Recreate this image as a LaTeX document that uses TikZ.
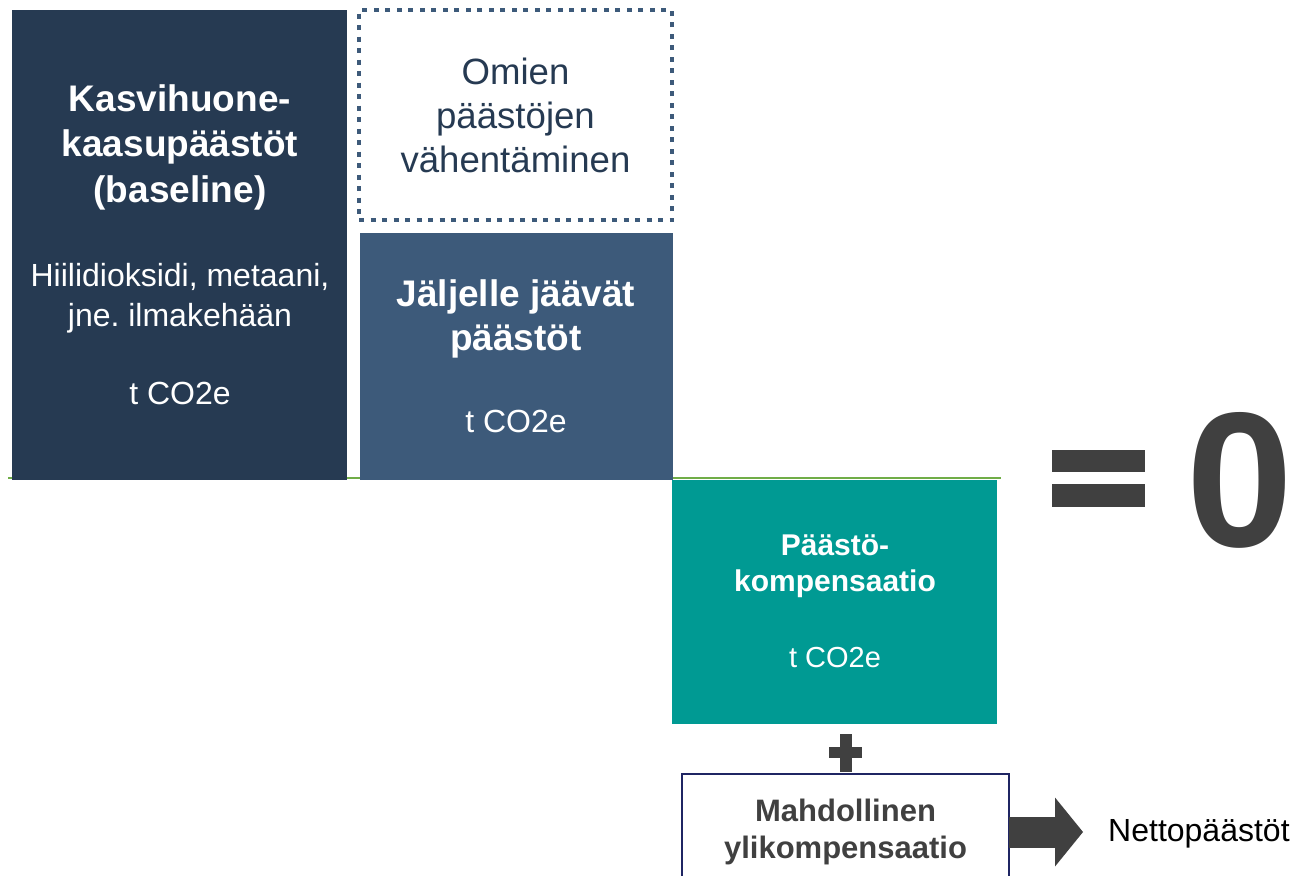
\documentclass[tikz,border=0pt]{standalone}
\usepackage{fontspec}
\setmainfont{Liberation Sans}
\usetikzlibrary{arrows.meta}
\frenchspacing

\definecolor{ghgnavy}{HTML}{263A52}
\definecolor{restblue}{HTML}{3D5A7A}
\definecolor{offsetteal}{HTML}{009A93}
\definecolor{linegreen}{HTML}{70AD47}
\definecolor{signgray}{HTML}{404040}
\definecolor{frameblue}{HTML}{1F2563}

\tikzset{
	block/.style = {rectangle, inner sep = 0pt, outer sep = 0pt},
	whitetext/.style = {text = white, align = center, inner sep = 0pt},
	bigsign/.style = {anchor = base, inner sep = 0pt, text = signgray, font = \bfseries\fontsize{192}{196}\selectfont}
}

\begin{document}
\begin{tikzpicture}[x = 1pt, y = -1pt]
		\useasboundingbox (0,0) rectangle (1294,876);
		\draw [linegreen, line width = 2.5pt] (8,478) -- (1001,478);
		
		\node (ghg) at (179.5,245) [block, fill = ghgnavy, minimum width = 335pt, minimum height = 470pt] {};
		\node (ghgtitle) at (180,147) [whitetext, font = \bfseries\fontsize{37}{45.5}\selectfont] {Kasvihuone-\\kaasupäästöt\\(baseline)};
		\node (ghggases) at (180,298) [whitetext, font = \fontsize{32}{40}\selectfont] {Hiilidioksidi, metaani,\\jne. ilmakehään};
		\node (ghgunit) at (180,393) [whitetext, font = \fontsize{32}{38}\selectfont] {t CO2e};
		
		\node (cut) at (515.5,115) [block, draw = restblue, line width = 4.5pt, dash pattern = on 5pt off 6.5pt, minimum width = 313pt, minimum height = 210pt, text = ghgnavy, align = center, font = \fontsize{36.6}{44}\selectfont] {Omien\\päästöjen\\vähentäminen};
		
		\node (rest) at (516.5,356.5) [block, fill = restblue, minimum width = 313pt, minimum height = 247pt] {};
		\node (resttitle) at (516,319) [whitetext, font = \bfseries\fontsize{37}{44}\selectfont] {Jäljelle jäävät\\päästöt};
		\node (restunit) at (516,421) [whitetext, font = \fontsize{32}{38}\selectfont] {t CO2e};
		
		\node (offset) at (834.5,602) [block, fill = offsetteal, minimum width = 325pt, minimum height = 244pt] {};
		\node (offsettitle) at (835,566) [whitetext, font = \bfseries\fontsize{30}{36}\selectfont] {Päästö-\\kompensaatio};
		\node (offsetunit) at (835,658) [whitetext, font = \fontsize{29}{35}\selectfont] {t CO2e};
		
		% plus and equals signs
		\fill [signgray] (840,734) rectangle (852,772);
		\fill [signgray] (829,747) rectangle (862,758);
		\fill [signgray] (1052,450) rectangle (1145,472);
		\fill [signgray] (1052,484) rectangle (1145,507);
		
		\node (over) at (845.5,832) [block, draw = frameblue, line width = 2.5pt, fill = white, minimum width = 327pt, minimum height = 116pt, text = signgray, align = center, font = \bfseries\fontsize{31}{37}\selectfont] {Mahdollinen\\ylikompensaatio};
		\node (net) at (1108,841) [anchor = base west, inner sep = 0pt, font = \fontsize{32}{38}\selectfont] {Nettopäästöt};
		\draw [signgray, line width = 31pt, -{Triangle[length = 28pt, width = 69pt, line width = 0pt]}, shorten >= 25pt] (over.east) -- (net.west |- over.east);
		
		\node (zero) at (1240,546) [bigsign] {0};
\end{tikzpicture}
\end{document}
